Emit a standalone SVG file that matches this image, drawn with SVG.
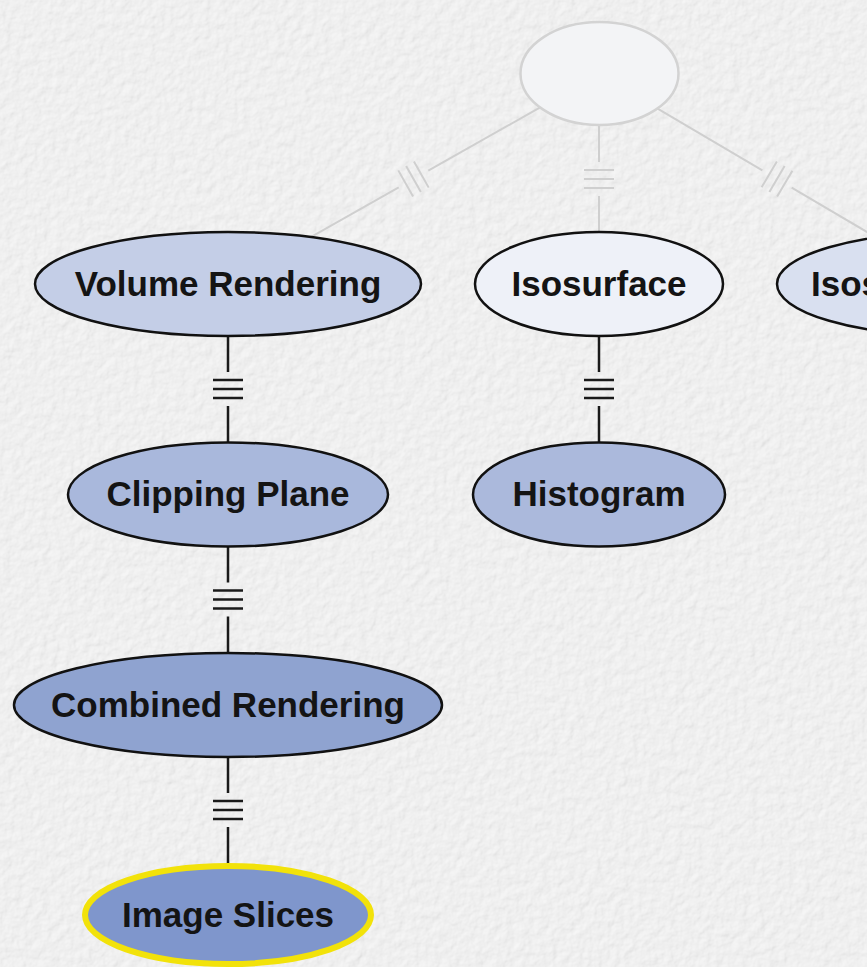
<svg xmlns="http://www.w3.org/2000/svg" width="867" height="967" viewBox="0 0 867 967">
  <defs>
    <!-- embossed paper backdrop -->
    <filter id="paper" x="0" y="0" width="100%" height="100%" filterUnits="userSpaceOnUse">
      <feTurbulence type="fractalNoise" baseFrequency="0.11" numOctaves="3" seed="7" result="noise"/>
      <feDiffuseLighting in="noise" surfaceScale="0.8" diffuseConstant="1" lighting-color="#f6f6f6">
        <feDistantLight azimuth="225" elevation="70"/>
      </feDiffuseLighting>
    </filter>
    <style>
      .node ellipse { stroke: #111; stroke-width: 2.5; }
      .node text { font-family: "Liberation Sans", Arial, Helvetica, sans-serif; font-weight: bold; font-size: 35px; fill: #141414; text-anchor: middle; }
      .edge line { stroke: #1a1a1a; stroke-width: 2.5; fill: none; }
      .edge.faint line { stroke: #cfcfcf; stroke-width: 2; }
    </style>
  </defs>

  <rect width="867" height="967" fill="#ececec"/>
  <rect width="867" height="967" filter="url(#paper)"/>

  <!-- connectors: each drawn along local x-axis, centred on the midpoint between node centres -->
  <g id="connectors">
    <!-- root -> Volume Rendering -->
    <g class="edge faint" transform="translate(413.5 179) rotate(150.5)">
      <line x1="-214" y1="0" x2="-17" y2="0"/><line x1="17" y1="0" x2="214" y2="0"/>
      <line x1="-9" y1="-15" x2="-9" y2="15"/><line x1="0" y1="-15" x2="0" y2="15"/><line x1="9" y1="-15" x2="9" y2="15"/>
    </g>
    <!-- root -> Isosurface -->
    <g class="edge faint" transform="translate(599 179) rotate(90)">
      <line x1="-105" y1="0" x2="-17" y2="0"/><line x1="17" y1="0" x2="105" y2="0"/>
      <line x1="-9" y1="-15" x2="-9" y2="15"/><line x1="0" y1="-15" x2="0" y2="15"/><line x1="9" y1="-15" x2="9" y2="15"/>
    </g>
    <!-- root -> right-hand node -->
    <g class="edge faint" transform="translate(777 179) rotate(30.5)">
      <line x1="-207" y1="0" x2="-17" y2="0"/><line x1="17" y1="0" x2="207" y2="0"/>
      <line x1="-9" y1="-15" x2="-9" y2="15"/><line x1="0" y1="-15" x2="0" y2="15"/><line x1="9" y1="-15" x2="9" y2="15"/>
    </g>
    <!-- Volume Rendering -> Clipping Plane -->
    <g class="edge" transform="translate(228 389) rotate(90)">
      <line x1="-105" y1="0" x2="-17" y2="0"/><line x1="17" y1="0" x2="105" y2="0"/>
      <line x1="-9" y1="-15" x2="-9" y2="15"/><line x1="0" y1="-15" x2="0" y2="15"/><line x1="9" y1="-15" x2="9" y2="15"/>
    </g>
    <!-- Isosurface -> Histogram -->
    <g class="edge" transform="translate(599 389) rotate(90)">
      <line x1="-105" y1="0" x2="-17" y2="0"/><line x1="17" y1="0" x2="105" y2="0"/>
      <line x1="-9" y1="-15" x2="-9" y2="15"/><line x1="0" y1="-15" x2="0" y2="15"/><line x1="9" y1="-15" x2="9" y2="15"/>
    </g>
    <!-- Clipping Plane -> Combined Rendering -->
    <g class="edge" transform="translate(228 599.5) rotate(90)">
      <line x1="-105" y1="0" x2="-17" y2="0"/><line x1="17" y1="0" x2="105" y2="0"/>
      <line x1="-9" y1="-15" x2="-9" y2="15"/><line x1="0" y1="-15" x2="0" y2="15"/><line x1="9" y1="-15" x2="9" y2="15"/>
    </g>
    <!-- Combined Rendering -> Image Slices -->
    <g class="edge" transform="translate(228 810) rotate(90)">
      <line x1="-105" y1="0" x2="-17" y2="0"/><line x1="17" y1="0" x2="105" y2="0"/>
      <line x1="-9" y1="-15" x2="-9" y2="15"/><line x1="0" y1="-15" x2="0" y2="15"/><line x1="9" y1="-15" x2="9" y2="15"/>
    </g>
  </g>

  <g id="root" class="node">
    <ellipse cx="599.5" cy="73.5" rx="79" ry="51.5" fill="#f3f4f6" style="stroke:#d3d3d3;stroke-width:2.5"/>
  </g>

  <g id="volume-rendering" class="node">
    <ellipse cx="228" cy="284" rx="193" ry="52" fill="#c4cee7"/>
    <text x="228" y="296">Volume Rendering</text>
  </g>

  <g id="isosurface" class="node">
    <ellipse cx="599" cy="284" rx="124" ry="52" fill="#eef1f8"/>
    <text x="599" y="296">Isosurface</text>
  </g>

  <g id="isos-right" class="node">
    <ellipse cx="955" cy="284" rx="178" ry="52" fill="#d9e0f0"/>
    <text x="811" y="296" style="text-anchor:start">Isos</text>
  </g>

  <g id="clipping-plane" class="node">
    <ellipse cx="228" cy="494.5" rx="160" ry="52" fill="#a9b8dc"/>
    <text x="228" y="506">Clipping Plane</text>
  </g>

  <g id="histogram" class="node">
    <ellipse cx="599" cy="494.5" rx="126" ry="52" fill="#abb9dc"/>
    <text x="599" y="506">Histogram</text>
  </g>

  <g id="combined-rendering" class="node">
    <ellipse cx="228" cy="705" rx="214" ry="52" fill="#8fa3d0"/>
    <text x="228" y="717">Combined Rendering</text>
  </g>

  <g id="image-slices" class="node">
    <ellipse cx="228" cy="915" rx="143" ry="49" fill="#7f96cc" style="stroke:#f2e20a;stroke-width:6"/>
    <text x="228" y="927">Image Slices</text>
  </g>
</svg>
